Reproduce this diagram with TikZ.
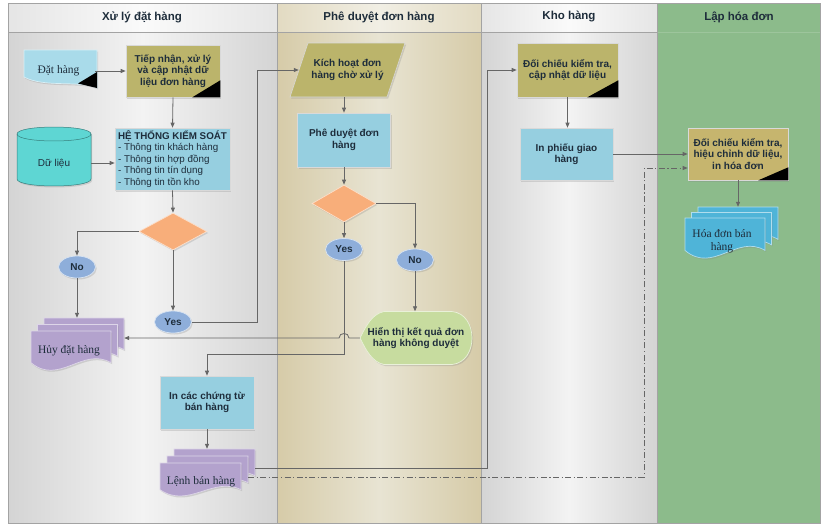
\documentclass[tikz,border=0pt]{standalone}
\usepackage{fontspec}
\setmainfont{Liberation Sans}
\newfontfamily\serifdoc{Liberation Serif}
\usetikzlibrary{shapes.geometric,arrows.meta,shadows,calc}

\definecolor{ink}{HTML}{1E2D3B}
\definecolor{olivebox}{HTML}{BBB46B}
\definecolor{goldbox}{HTML}{C6B56E}
\definecolor{skyb}{HTML}{96CFE0}
\definecolor{paleb}{HTML}{A9DBEA}
\definecolor{cylc}{HTML}{5ED6D3}
\definecolor{orng}{HTML}{F8AE7A}
\definecolor{ellc}{HTML}{8EAEDA}
\definecolor{purp}{HTML}{B3A2CD}
\definecolor{dispg}{HTML}{C7DC9F}
\definecolor{docb}{HTML}{4FB4D8}
\definecolor{laneg}{HTML}{8CBB8B}
\definecolor{wirec}{HTML}{666666}
\definecolor{framec}{HTML}{A3A3A3}
\definecolor{greyedge}{HTML}{D4D4D4}
\definecolor{greymid}{HTML}{F3F3F3}
\definecolor{beigeedge}{HTML}{D6CBA8}
\definecolor{beigemid}{HTML}{E8E4D3}

\tikzset{
  softshadow/.style={drop shadow={opacity=0.25, shadow xshift=1.2pt, shadow yshift=-1.5pt}},
  lbl/.style={font=\fontsize{10}{11.5}\selectfont\bfseries, text=ink, align=center},
  proc/.style={lbl, rectangle, draw=white!70!gray, line width=0.6pt, softshadow, inner sep=2pt},
  ghost/.style={rectangle, draw=none, inner sep=0pt},
  ell/.style={lbl, ellipse, minimum width=37pt, minimum height=22pt, inner sep=0pt,
              fill=ellc, draw=white!65!ellc, line width=0.7pt, softshadow},
  dia/.style={diamond, minimum width=68pt, minimum height=37pt, inner sep=0pt,
              fill=orng, draw=white!60!orng, line width=0.7pt, softshadow},
  doctext/.style={font=\serifdoc\fontsize{11.5}{13}\selectfont, text=ink, align=center},
  lanetitle/.style={font=\fontsize{11.5}{13}\selectfont\bfseries, text=ink},
  wire/.style={draw=wirec, line width=0.8pt},
  arr/.style={wire, -{Triangle[length=5pt,width=4pt]}},
  dashdot/.style={wire, dash pattern=on 6pt off 2.5pt on 1.2pt off 2.5pt},
  corner/.style={fill=black}
}

% one page of a document symbol with a wavy lower edge: x1 y1 x2 y2 fill
\newcommand\docpage[5]{%
  \filldraw[fill=#5, draw=white!55!#5, line width=0.7pt, softshadow]
    (#1,#2) -- (#3,#2) -- (#3,{#2+0.72*(#4-#2)})
    .. controls ({#1+0.65*(#3-#1)},{#2+0.35*(#4-#2)}) and ({#1+0.35*(#3-#1)},{#2+1.25*(#4-#2)})
    .. (#1,{#2+0.72*(#4-#2)}) -- cycle;}

\begin{document}
\begin{tikzpicture}[x=1pt,y=-1pt]
\useasboundingbox (0,0) rectangle (821,525);
\fill[white] (0,0) rectangle (821,525);

% ---------- swimlanes ----------
\shade[left color=greyedge, right color=greyedge, middle color=greymid] (8,3) rectangle (277,523);
\shade[left color=beigeedge, right color=beigeedge, middle color=beigemid] (277,3) rectangle (481,523);
\shade[left color=greyedge, right color=greyedge, middle color=greymid] (481,3) rectangle (657,523);
\fill[laneg] (657,3) rectangle (821,523);
\shade[left color=white!40!greyedge, right color=white!40!greyedge, middle color=white!60!greymid] (8,3) rectangle (277,32);
\shade[left color=white!30!beigeedge, right color=white!30!beigeedge, middle color=white!40!beigemid] (277,3) rectangle (481,32);
\shade[left color=white!40!greyedge, right color=white!40!greyedge, middle color=white!60!greymid] (481,3) rectangle (657,32);
\draw[framec, line width=0.8pt] (8,32) -- (657,32);
\draw[white!15!laneg, line width=0.8pt] (657,32) -- (821,32);
\draw[framec, line width=0.8pt] (8,3) rectangle (820.6,523);
\foreach \lx in {277,481,657} \draw[framec, line width=0.8pt] (\lx,3) -- (\lx,523);

\node[lanetitle] (t1) at (142,17) {Xử lý đặt hàng};
\node[lanetitle] (t2) at (379,17) {Phê duyệt đơn hàng};
\node[lanetitle] (t3) at (569,17) {Kho hàng};
\node[lanetitle] (t4) at (739,17) {Lập hóa đơn};

% ---------- drawn symbols ----------
% order document (wave falling to the right, black corner)
\filldraw[fill=paleb, draw=white!55!paleb, line width=0.7pt, softshadow]
  (24,50) -- (97,50) -- (97,88) .. controls (80,80) and (45,88) .. (24,77) -- cycle;
\fill[black] (97,72) -- (97,88) -- (78,83.5) -- cycle;

% database cylinder
\filldraw[fill=cylc, draw=cylc!60!black, line width=0.5pt, softshadow]
  (17,134) -- (17,179) .. controls (17,188.3) and (91,188.3) .. (91,179) -- (91,134)
  .. controls (91,124.7) and (17,124.7) .. (17,134) -- cycle;
\draw[cylc!60!black, line width=0.5pt] (17,134) .. controls (17,143.3) and (91,143.3) .. (91,134);

% parallelogram (input)
\filldraw[fill=olivebox, draw=white!70!gray, line width=0.6pt, softshadow]
  (308,43) -- (405,43) -- (387,97) -- (290,97) -- cycle;

% display symbol
\filldraw[fill=dispg, draw=white!60!dispg, line width=0.7pt, softshadow]
  (360,338) .. controls (366,326) and (372,314) .. (384,311.5) -- (452,311.5)
  .. controls (466,313) and (472,326) .. (472,338)
  .. controls (472,350) and (466,363) .. (452,364.5) -- (384,364.5)
  .. controls (372,362) and (366,350) .. (360,338) -- cycle;

% stacked documents
\docpage{44}{318}{124}{362}{purp}
\docpage{37.5}{324.5}{117.5}{368.5}{purp}
\docpage{31}{331}{111}{375}{purp}

\docpage{174}{449}{255}{486}{purp}
\docpage{167}{456}{248}{493}{purp}
\docpage{160}{463}{241}{500}{purp}

\docpage{698}{207}{778}{252}{docb}
\docpage{691.5}{212.5}{771.5}{257.5}{docb}
\docpage{685}{218}{765}{263}{docb}

% ---------- nodes ----------
\node[ghost, doctext, minimum width=73pt, minimum height=40pt] (dat) at (58.5,71) {Đặt hàng};
\node[proc, fill=olivebox, minimum width=94pt, minimum height=52pt] (tn) at (173,71)
  {Tiếp nhận, xử lý\\và cập nhật dữ\\liệu đơn hàng};
\fill[corner] (tn.south east) -- ++(-28,0) -- ++(28,-17) -- cycle;

\node[ghost, font=\fontsize{10}{11.5}\selectfont, text=ink, minimum width=74pt, minimum height=42pt] (dulieu) at (54,164) {Dữ liệu};
\node[proc, fill=skyb, minimum width=115pt, minimum height=62pt, align=left,
      font=\fontsize{9.8}{11.6}\selectfont] (htks) at (172.5,159)
  {\textbf{HỆ THỐNG KIỂM SOÁT}\\- Thông tin khách hàng\\- Thông tin hợp đồng\\- Thông tin tín dụng\\- Thông tin tồn kho};

\node[dia] (d1) at (173,231.5) {};
\node[ell] (no1) at (77,267) {No};
\node[ell] (yes1) at (173,322) {Yes};

\node[ghost, minimum width=93pt, minimum height=45pt] (huy) at (77.5,340.5) {};
\node[doctext] (huyt) at (69,351) {Hủy đặt hàng};

\node[ghost, lbl, minimum width=97pt, minimum height=54pt] (kich) at (347.5,70) {Kích hoạt đơn\\hàng chờ xử lý};
\node[proc, fill=skyb, minimum width=93pt, minimum height=54pt] (pd) at (344,140) {Phê duyệt đơn\\hàng};
\node[dia, minimum width=64pt] (d2) at (344,203.5) {};
\node[ell] (yes2) at (344,249.5) {Yes};
\node[ell] (no2) at (415,260) {No};
\node[ghost, lbl, minimum width=112pt, minimum height=53pt] (disp) at (416,338) {Hiển thị kết quả đơn\\hàng không duyệt};

\node[proc, fill=skyb, minimum width=94pt, minimum height=53pt] (inc) at (207,402.5) {In các chứng từ\\bán hàng};
\node[ghost, minimum width=95pt, minimum height=41pt] (lenh) at (207.5,469.5) {};
\node[doctext] (lenht) at (201,482) {Lệnh bán hàng};

\node[proc, fill=olivebox, minimum width=101pt, minimum height=54pt] (dc1) at (567.5,70) {Đối chiếu kiểm tra,\\cập nhật dữ liệu};
\fill[corner] (dc1.south east) -- ++(-31,0) -- ++(31,-17) -- cycle;
\node[proc, fill=skyb, minimum width=93pt, minimum height=52pt] (ip) at (566.5,154) {In phiếu giao\\hàng};

\node[proc, fill=goldbox, minimum width=100pt, minimum height=52pt] (dc3) at (738,154) {Đối chiếu kiểm tra,\\hiệu chỉnh dữ liệu,\\in hóa đơn};
\fill[corner] (dc3.south east) -- ++(-30,0) -- ++(30,-13) -- cycle;
\node[ghost, minimum width=93pt, minimum height=45pt] (hd) at (731.5,229.5) {};
\node[doctext] (hdt) at (722,241) {Hóa đơn bán\\hàng};

% routing points
\coordinate (jx1) at (257,0);
\coordinate (jy1) at (0,354);
\coordinate (jx2) at (487,0);
\coordinate (jx3) at (644,0);
\coordinate (jy2) at (0,168);
\coordinate (l1) at (255,468);
\coordinate (l2) at (248,477);

% ---------- connectors ----------
\draw[arr] (dat.east) -- (dat.east -| tn.west);
\draw[arr] (tn.south) -- (htks.north);
\draw[arr] ($(dulieu.east)+(0,-1)$) -- ($(dulieu.east -| htks.west)+(0,-1)$);
\draw[arr] (htks.south) -- (d1.north);
\draw[arr] (d1.west) -| (no1.north);
\draw[arr] (d1.south) -- (yes1.north);
\draw[arr] (no1.south) -- (no1.south |- huy.north);
\draw[arr] (yes1.east) -- (yes1.east -| jx1) |- (kich.west);

\draw[arr] (pd.north |- kich.south) -- (pd.north);
\draw[arr] (pd.south) -- (d2.north);
\draw[arr] (d2.south) -- (yes2.north);
\draw[arr] (d2.east) -| (no2.north);
\draw[arr] (no2.south) -- (no2.south |- disp.north);
\draw[arr] (disp.west) -- ($(yes2.south |- disp.west)+(5,0)$)
  .. controls +(0,-6) and +(0,-6) .. ($(yes2.south |- disp.west)+(-5,0)$)
  -- (huy.east |- disp.west);
\draw[arr] (yes2.south) -- (yes2.south |- jy1) -| (inc.north);
\draw[arr] (inc.south) -- (inc.south |- lenh.north);

\draw[arr] (l1) -- (l1 -| jx2) |- (dc1.west);
\draw[arr] (dc1.south) -- (dc1.south |- ip.north);
\draw[arr] (ip.east) -- (ip.east -| dc3.west);
\draw[dashdot, -{Triangle[length=5pt,width=4pt]}] (l2) -- (l2 -| jx3) |- (dc3.west |- jy2);
\draw[arr] (dc3.south) -- (dc3.south |- hd.north);
\end{tikzpicture}
\end{document}
